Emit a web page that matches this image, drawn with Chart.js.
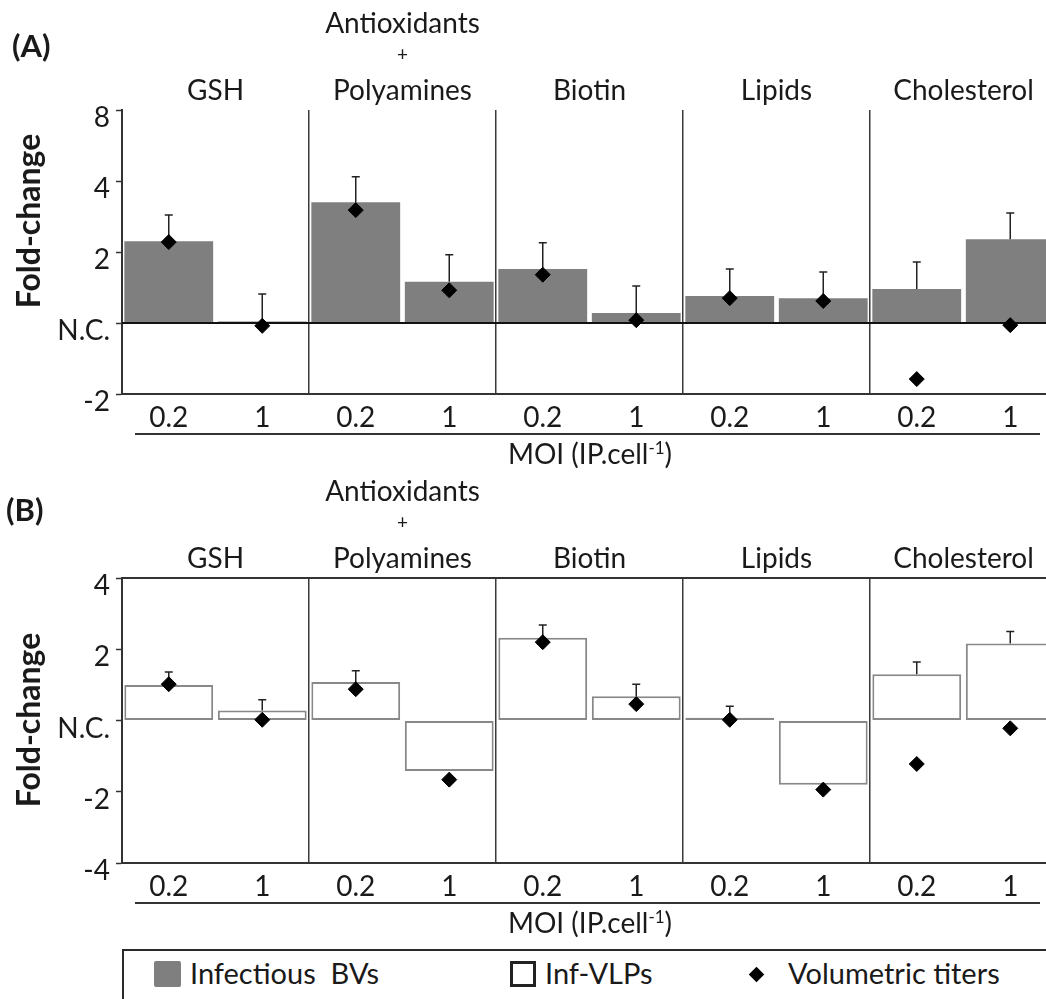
<!DOCTYPE html>
<html>
<head>
<meta charset="utf-8">
<title>Fold-change</title>
<script src="https://cdn.jsdelivr.net/npm/chart.js@4.4.1/dist/chart.umd.min.js"></script>
<style>
    html, body { margin: 0; padding: 0; overflow: hidden; background: #fff; }
    body { width: 1046px; height: 999px; position: relative; font-family: Lato, sans-serif; color: #1a1a1a; }
    canvas { position: absolute; left: 0; }
    #legend { position: absolute; left: 122px; top: 949px; width: 1000px; height: 80px; border: 2px solid #2a2a2a; }
    #legend .sw { position: absolute; top: 10px; width: 27px; height: 26px; box-sizing: border-box; }
    #legend .txt { position: absolute; top: 5px; font-size: 29px; line-height: 34px; white-space: pre; }
    #legend .dia { position: absolute; top: 18px; width: 11px; height: 11px; background: #000; transform: rotate(45deg); }
</style>
</head>
<body>
<canvas id="chartA" width="1070" height="470" style="top:0"></canvas>
<canvas id="chartB" width="1070" height="480" style="top:465px"></canvas>
<div id="legend"></div>
<script>
// categories
const groups = ['GSH', 'Antioxidants\n+\nPolyamines', 'Biotin', 'Lipids', 'Cholesterol'];
const moi = ['0.2', '1', '0.2', '1', '0.2', '1', '0.2', '1', '0.2', '1'];

// series names
const nameBVs = 'Infectious  BVs';
const nameVLPs = 'Inf-VLPs';
const nameTiters = 'Volumetric titers';

// panel A, log2 of fold-change (0 = N.C.)
const bvs = [1.15, 0.02, 1.70, 0.58, 0.76, 0.14, 0.38, 0.35, 0.48, 1.18];
const bvsErr = [0.37, 0.39, 0.36, 0.38, 0.37, 0.38, 0.38, 0.37, 0.38, 0.37];
const titersA = [1.14, -0.04, 1.59, 0.46, 0.68, 0.04, 0.35, 0.31, -0.79, -0.03];

// panel B, log2 of fold-change
const vlps = [0.50, 0.14, 0.54, -0.71, 1.16, 0.34, 0.04, -0.90, 0.65, 1.08];
const vlpsErr = [0.18, 0.15, 0.16, 0, 0.18, 0.17, 0.16, 0, 0.17, 0.17];
const titersB = [0.51, 0.01, 0.44, -0.83, 1.10, 0.23, 0.01, -0.97, -0.61, -0.11];

// tick labels
const ticksA = [-1, 0, 1, 2, 3];
const tickLabelsA = ['-2', 'N.C.', '2', '4', '8'];
const ticksB = [-2, -1, 0, 1, 2];
const tickLabelsB = ['-4', '-2', 'N.C.', '2', '4'];

const FONT = 'Lato, sans-serif';
const INK = '#1a1a1a';

/* draws error bars, the N.C. line and all the text around the plot */
const decor = {
    id: 'decor',
    afterDatasetDraw(chart, args, opts) {
        if (args.meta.type !== 'bar') return;
        const ctx = chart.ctx;
        const y = chart.scales.y;
        const area = chart.chartArea;
        const data = chart.data.datasets[args.index].data;
        ctx.save();
        if (opts.zeroLine) {
            const y0 = y.getPixelForValue(0);
            ctx.strokeStyle = '#111';
            ctx.lineWidth = 2;
            ctx.beginPath();
            ctx.moveTo(area.left, y0);
            ctx.lineTo(area.right, y0);
            ctx.stroke();
        }
        ctx.strokeStyle = '#222';
        ctx.lineWidth = 1.5;
        args.meta.data.forEach(function (bar, i) {
            const e = opts.errors[i];
            if (!e) return;
            const v = data[i];
            const dir = v >= 0 ? 1 : -1;
            const y0 = y.getPixelForValue(v);
            const y1 = y.getPixelForValue(v + dir * e);
            ctx.beginPath();
            ctx.moveTo(bar.x, y0);
            ctx.lineTo(bar.x, y1);
            ctx.moveTo(bar.x - 4, y1);
            ctx.lineTo(bar.x + 4, y1);
            ctx.stroke();
        });
        ctx.restore();
    },
    afterDraw(chart, args, opts) {
        const ctx = chart.ctx;
        const x = chart.scales.x;
        const area = chart.chartArea;
        ctx.save();
        ctx.fillStyle = INK;

        // panel letter
        ctx.font = 'bold 31px ' + FONT;
        ctx.textAlign = 'left';
        ctx.textBaseline = 'middle';
        ctx.fillText(opts.label, opts.labelX, opts.labelY);

        // y title
        ctx.save();
        ctx.translate(30, opts.titleY);
        ctx.rotate(-Math.PI / 2);
        ctx.textAlign = 'center';
        ctx.font = 'bold 32px ' + FONT;
        ctx.fillText('Fold-change', 0, 0);
        ctx.restore();

        // group titles
        ctx.textAlign = 'center';
        ctx.textBaseline = 'alphabetic';
        const offs = [10, 49, 77];
        groups.forEach(function (g, i) {
            const cx = (x.getPixelForValue(2 * i) + x.getPixelForValue(2 * i + 1)) / 2;
            const lines = g.split('\n').reverse();
            lines.forEach(function (t, k) {
                ctx.font = (t === '+' ? '19px ' : '28px ') + FONT;
                ctx.fillText(t, cx, area.top - offs[k]);
            });
        });

        // top frame line (panel B)
        ctx.strokeStyle = '#333';
        ctx.lineWidth = 2;
        if (opts.topBorder) {
            ctx.beginPath();
            ctx.moveTo(area.left, area.top);
            ctx.lineTo(area.right, area.top);
            ctx.stroke();
        }

        // MOI rule and label
        const ly = area.bottom + 40;
        ctx.beginPath();
        ctx.moveTo(135, ly);
        ctx.lineTo(1040, ly);
        ctx.stroke();

        const ty = area.bottom + 70;
        const a = 'MOI (IP.cell', s = '-1', b = ')';
        ctx.font = '28px ' + FONT;
        const wa = ctx.measureText(a).width, wb = ctx.measureText(b).width;
        ctx.font = '17px ' + FONT;
        const ws = ctx.measureText(s).width;
        const px = 590 - (wa + ws + wb) / 2;
        ctx.textAlign = 'left';
        ctx.font = '28px ' + FONT;
        ctx.fillText(a, px, ty);
        ctx.font = '17px ' + FONT;
        ctx.fillText(s, px + wa, ty - 10);
        ctx.font = '28px ' + FONT;
        ctx.fillText(b, px + wa + ws, ty);
        ctx.restore();
    }
};

function makeChart(id, o) {
    return new Chart(document.getElementById(id), {
        data: {
            labels: moi,
            datasets: [
                {
                    type: 'line',
                    label: nameTiters,
                    data: o.titers,
                    showLine: false,
                    pointStyle: 'rectRot',
                    pointRadius: 7.5,
                    pointBorderWidth: 1,
                    pointBackgroundColor: '#000',
                    pointBorderColor: '#000',
                    order: 0
                },
                {
                    type: 'bar',
                    label: o.name,
                    data: o.bars,
                    backgroundColor: o.fill,
                    borderColor: o.border,
                    borderWidth: o.borderWidth,
                    borderSkipped: false,
                    barPercentage: 0.95,
                    categoryPercentage: 1,
                    order: 1
                }
            ]
        },
        options: {
            responsive: false,
            animation: false,
            devicePixelRatio: 1,
            layout: { padding: { top: o.top, right: 13, left: 0, bottom: 0 } },
            plugins: {
                legend: { display: false },
                tooltip: { enabled: false },
                decor: o.decor
            },
            scales: {
                x: {
                    grid: {
                        offset: true,
                        drawTicks: false,
                        lineWidth: 1.5,
                        color: function (c) {
                            return (c.index > 0 && c.index % 2 === 0) ? '#3a3a3a' : 'rgba(0,0,0,0)';
                        }
                    },
                    border: { color: '#333', width: 2 },
                    ticks: { font: { family: FONT, size: 28 }, color: INK, padding: 7, maxRotation: 0 },
                    afterFit: function (s) { s.height = o.xHeight; }
                },
                y: {
                    min: o.ticks[0],
                    max: o.ticks[o.ticks.length - 1],
                    ticks: {
                        stepSize: 1,
                        font: { family: FONT, size: 28 },
                        color: INK,
                        padding: 6,
                        labelOffset: 8,
                        callback: function (v) {
                            const i = o.ticks.indexOf(v);
                            return i < 0 ? '' : o.tickLabels[i];
                        }
                    },
                    grid: { drawOnChartArea: false, tickLength: 6, tickColor: '#333', tickWidth: 1.5 },
                    border: { color: '#333', width: 2 },
                    afterFit: function (s) { s.width = 122; }
                }
            }
        },
        plugins: [decor]
    });
}

makeChart('chartA', {
    name: nameBVs, bars: bvs, titers: titersA,
    fill: '#7f7f7f', border: '#7f7f7f', borderWidth: 0,
    ticks: ticksA, tickLabels: tickLabelsA,
    top: 110, xHeight: 76,
    decor: { label: '(A)', labelX: 12, labelY: 47, titleY: 221, zeroLine: true, topBorder: false, errors: bvsErr }
});

makeChart('chartB', {
    name: nameVLPs, bars: vlps, titers: titersB,
    fill: '#ffffff', border: '#888888', borderWidth: 2,
    ticks: ticksB, tickLabels: tickLabelsB,
    top: 113, xHeight: 82,
    decor: { label: '(B)', labelX: 6, labelY: 46, titleY: 255, zeroLine: false, topBorder: true, errors: vlpsErr }
});

// legend shared by both panels
const legend = document.getElementById('legend');
legend.innerHTML =
    '<span class="sw" style="left:30px;background:#7f7f7f;border-radius:2px"></span>' +
    '<span class="txt" style="left:66px">' + nameBVs + '</span>' +
    '<span class="sw" style="left:386px;width:26px;border:3px solid #222;background:#fff"></span>' +
    '<span class="txt" style="left:421px">' + nameVLPs + '</span>' +
    '<span class="dia" style="left:627px"></span>' +
    '<span class="txt" style="left:664px">' + nameTiters + '</span>';
</script>
</body>
</html>
